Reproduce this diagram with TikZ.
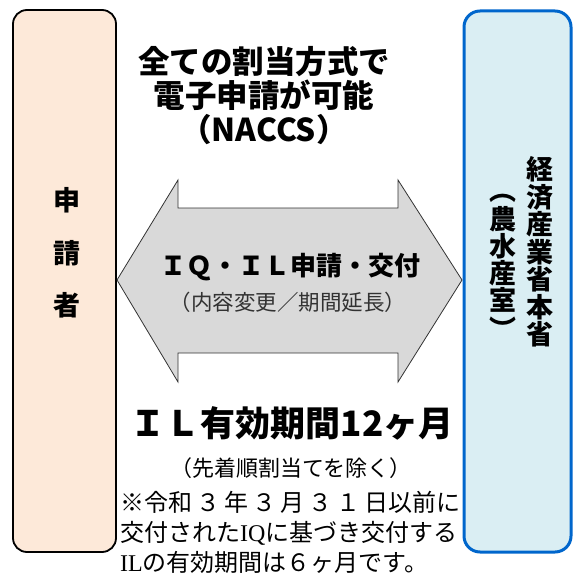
\documentclass[tikz,border=0pt]{standalone}
\usepackage{fontspec}
\newfontfamily\jp{Noto Sans CJK JP}
\newfontfamily\serifl{Liberation Serif}
\definecolor{peach}{RGB}{253,233,217}
\definecolor{lblue}{RGB}{218,238,243}
\definecolor{dblue}{RGB}{0,102,204}
\definecolor{agray}{RGB}{217,217,217}
\definecolor{tgray}{RGB}{50,50,50}
\begin{document}
\begin{tikzpicture}[x=1pt,y=-1pt,
  vchar/.style={font=\jp\bfseries\fontsize{27}{27}\selectfont, inner sep=0pt},
  title/.style={font=\jp\bfseries\fontsize{31.5}{34}\selectfont, align=center, inner sep=0pt},
  note/.style={font=\jp\fontsize{24}{24}\selectfont, anchor=west, inner sep=0pt}]
\useasboundingbox (0,0) rectangle (574,577);
% boxes
\draw[line width=1.8pt, fill=peach, rounded corners=14pt] (13,10) rectangle (116,552);
\draw[line width=3pt, draw=dblue, fill=lblue, rounded corners=16pt] (464,11) rectangle (571,552);
% double arrow
\draw[line width=0.8pt, draw=black!80, fill=agray]
  (117,280) -- (178,180) -- (178,208) -- (398,208) -- (398,180) -- (462,280)
  -- (398,382) -- (398,353) -- (178,353) -- (178,382) -- cycle;
% left box text
\node[vchar] (a1) at (67,200) {申};
\node[vchar] (a2) at (67,253) {請};
\node[vchar] (a3) at (67,305) {者};
% right box text
\node[vchar, align=center, font=\jp\bfseries\fontsize{27}{27.5}\selectfont] (b1) at (540,252) {経\\済\\産\\業\\省\\本\\省};
\node[vchar] (c0) at (503,198) {︵};
\node[vchar] (c1) at (503,219) {農};
\node[vchar] (c2) at (503,246) {水};
\node[vchar] (c3) at (503,273) {産};
\node[vchar] (c4) at (503,300) {室};
\node[vchar] (c5) at (503,328) {︶};
% title
\node[title] (t) at (264,96) {全ての割当方式で\\電子申請が可能\\（NACCS）};
% arrow text
\node[inner sep=0pt, font=\jp\bfseries\fontsize{26}{26}\selectfont] (m1) at (290,267) {ＩＱ・ＩＬ申請・交付};
\node[inner sep=0pt, text=tgray, font=\jp\fontsize{21.5}{21.5}\selectfont] (m2) at (288,302) {（内容変更／期間延長）};
% bottom text
\node[inner sep=0pt, font=\jp\bfseries\fontsize{35}{35}\selectfont] (il) at (292,423) {ＩＬ有効期間12ヶ月};
\node[inner sep=0pt, font=\jp\fontsize{22}{22}\selectfont] (ex) at (291,468) {（先着順割当てを除く）};
\node[note] (n1) at (120,502) {※令和\,３\,年\,３\,月\,３\,１\,日以前に};
\node[note] (n2) at (120,533) {交付された{\serifl IQ}に基づき交付する};
\node[note] (n3) at (120,562) {{\serifl IL}の有効期間は６ヶ月です。};
\end{tikzpicture}
\end{document}
